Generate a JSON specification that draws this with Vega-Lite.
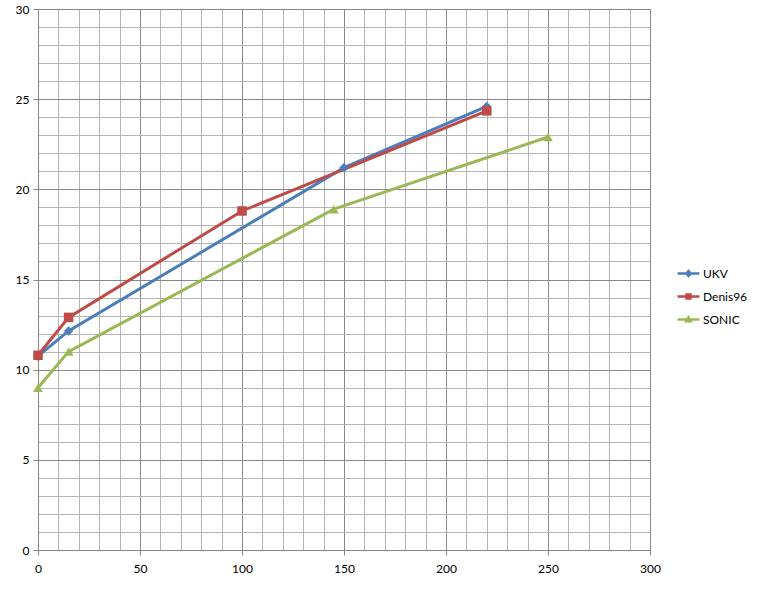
{
  "$schema": "https://vega.github.io/schema/vega-lite/v6.json",
  "width": 612,
  "height": 541,
  "autosize": {"type": "none"},
  "padding": {"left": 38, "top": 9, "right": 110, "bottom": 40},
  "background": "white",
  "config": {
    "font": "Lato",
    "view": {"stroke": null},
    "axis": {"labelFont": "Lato", "labelFontSize": 12, "labelColor": "#000", "domainColor": "#868686", "tickColor": "#868686", "title": null}
  },
  "data": {"values": [
    {"series": "UKV", "x": 0, "y": 10.75},
    {"series": "UKV", "x": 15, "y": 12.15},
    {"series": "UKV", "x": 150, "y": 21.2},
    {"series": "UKV", "x": 220, "y": 24.6},
    {"series": "Denis96", "x": 0, "y": 10.8},
    {"series": "Denis96", "x": 15, "y": 12.9},
    {"series": "Denis96", "x": 100, "y": 18.8},
    {"series": "Denis96", "x": 220, "y": 24.35},
    {"series": "SONIC", "x": 0, "y": 9.0},
    {"series": "SONIC", "x": 15, "y": 11.0},
    {"series": "SONIC", "x": 145, "y": 18.9},
    {"series": "SONIC", "x": 250, "y": 22.9}
  ]},
  "encoding": {
    "x": {"field": "x", "type": "quantitative", "scale": {"domain": [0, 300], "nice": false},
      "axis": {"values": [0,10,20,30,40,50,60,70,80,90,100,110,120,130,140,150,160,170,180,190,200,210,220,230,240,250,260,270,280,290,300],
        "labelExpr": "datum.value % 50 === 0 ? datum.label : ''",
        "grid": true,
        "gridColor": {"condition": {"test": "datum.value % 50 === 0", "value": "#888888"}, "value": "#b4b4b4"},
        "tickOpacity": {"condition": {"test": "datum.value % 50 === 0", "value": 1}, "value": 0},
        "tickSize": 5, "labelPadding": 8, "labelFlush": false}},
    "y": {"field": "y", "type": "quantitative", "scale": {"domain": [0, 30], "nice": false},
      "axis": {"values": [0,1,2,3,4,5,6,7,8,9,10,11,12,13,14,15,16,17,18,19,20,21,22,23,24,25,26,27,28,29,30],
        "labelExpr": "datum.value % 5 === 0 ? datum.label : ''",
        "grid": true,
        "gridColor": {"condition": {"test": "datum.value % 5 === 0", "value": "#888888"}, "value": "#b4b4b4"},
        "tickOpacity": {"condition": {"test": "datum.value % 5 === 0", "value": 1}, "value": 0},
        "tickSize": 5, "labelPadding": 4, "labelFlush": false}},
    "color": {"field": "series", "type": "nominal",
      "scale": {"domain": ["UKV", "Denis96", "SONIC"], "range": ["#4a7ebb", "#be4b48", "#98b954"]},
      "legend": {"title": null, "orient": "none", "legendX": 638, "legendY": 252, "labelFont": "Lato", "labelFontSize": 12, "rowPadding": 3, "symbolSize": 480, "symbolStrokeWidth": 2.5, "symbolOpacity": 1, "labelOffset": 2,
        "encode": {"symbols": {"update": {
          "shape": {"signal": "datum.value === 'UKV' ? 'M-1,0H-0.2M0.2,0H1M0,-0.22L0.2,0L0,0.22L-0.2,0Z' : datum.value === 'Denis96' ? 'M-1,0H-0.18M0.18,0H1M-0.18,-0.18H0.18V0.18H-0.18Z' : 'M-1,0H-0.2M0.2,0H1M0,-0.2L0.2,0.16H-0.2Z'"},
          "fill": {"scale": "color", "field": "value"},
          "stroke": {"scale": "color", "field": "value"},
          "strokeWidth": {"value": 2.5}}}}}}
  },
  "layer": [
    {"mark": {"type": "line", "strokeWidth": 3}},
    {"transform": [{"filter": "datum.series === 'UKV'"}], "mark": {"type": "point", "shape": "diamond", "filled": true, "opacity": 1, "size": 90}},
    {"transform": [{"filter": "datum.series === 'Denis96'"}], "mark": {"type": "point", "shape": "square", "filled": true, "opacity": 1, "size": 90}},
    {"transform": [{"filter": "datum.series === 'SONIC'"}], "mark": {"type": "point", "shape": "triangle-up", "filled": true, "opacity": 1, "size": 95}}
  ]
}
